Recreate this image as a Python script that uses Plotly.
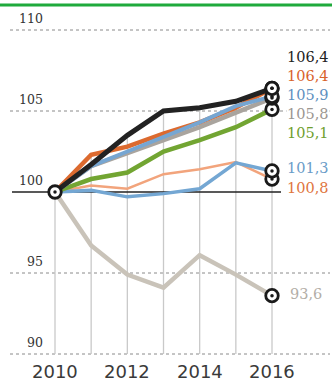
import plotly.graph_objects as go

years = [2010, 2011, 2012, 2013, 2014, 2015, 2016]
black = [100, 101.7, 103.5, 105.0, 105.2, 105.6, 106.4]
orange = [100, 102.3, 102.8, 103.6, 104.3, 105.2, 106.4]
blue_up = [100, 101.6, 102.5, 103.4, 104.3, 105.3, 105.9]
grey_up = [100, 101.6, 102.4, 103.2, 104.0, 104.9, 105.8]
green = [100, 100.8, 101.2, 102.5, 103.2, 104.0, 105.1]
blue_low = [100, 100.1, 99.7, 99.9, 100.2, 101.8, 101.3]
salmon = [100, 100.4, 100.2, 101.1, 101.4, 101.85, 100.8]
grey_low = [100, 96.7, 94.9, 94.1, 96.1, 94.9, 93.6]
y_ticks = [110, 105, 100, 95, 90]
x_labels = [2010, 2012, 2014, 2016]

# (values, line colour, label colour, width, label yshift px, label right edge px)
series = [
    (grey_low, "#c9c3b9", "#b3aea7", 4.5, 2, 323),
    (salmon, "#f2a47c", "#e0753d", 2.5, -9, 330),
    (blue_low, "#74a7d3", "#6a9cc8", 3.5, 3, 330),
    (green, "#72a532", "#6e9e2c", 4.5, -24, 330),
    (grey_up, "#a9a49e", "#9b9691", 4.5, -16, 330),
    (orange, "#dc6a2f", "#d8632b", 4.5, 12, 330),
    (blue_up, "#76a6d2", "#5e90c0", 4, 1, 330),
    (black, "#222222", "#222222", 5, 31, 330),
]

W, H = 332, 381
px_per_year = 36.17
px_per_unit = 16.2
x0 = 2010 - 55 / px_per_year
x1 = 2016 + (W - 272) / px_per_year
y1 = 100 + 192 / px_per_unit
y0 = 100 - (H - 192) / px_per_unit

fig = go.Figure()

# vertical drop lines from top value to 90
for i, yr in enumerate(years):
    top = max(s[0][i] for s in series)
    fig.add_shape(type="line", x0=yr, x1=yr, y0=90, y1=top, xref="x", yref="y",
                  line=dict(color="#c9c9c9", width=1.3), layer="below")

# dotted horizontal gridlines
for v in y_ticks:
    if v == 100:
        continue
    fig.add_shape(type="line", x0=10 / W, x1=330 / W, y0=v, y1=v, xref="paper", yref="y",
                  line=dict(color="#8a8a8a", width=1, dash="dot"), layer="below")
# baseline at 100
fig.add_shape(type="line", x0=x0 + 12 / px_per_year, x1=2016 + 9 / px_per_year, y0=100, y1=100,
              xref="x", yref="y", line=dict(color="#222222", width=1.3), layer="below")

# top green rule
fig.add_shape(type="line", x0=0, x1=1, y0=1 - 5 / H, y1=1 - 5 / H, xref="paper", yref="paper",
              line=dict(color="#1faa3c", width=3))

for vals, col, lcol, w, ysh, xr in series:
    fig.add_trace(go.Scatter(x=years, y=vals, mode="lines",
                             line=dict(color=col, width=w), hoverinfo="skip"))

# end markers
mx = [years[0]] + [years[-1]] * len(series)
my = [100] + [s[0][-1] for s in series]
fig.add_trace(go.Scatter(x=mx, y=my, mode="markers",
                         marker=dict(size=12.5, color="white", line=dict(color="#1a1a1a", width=2.8))))
fig.add_trace(go.Scatter(x=mx, y=my, mode="markers",
                         marker=dict(size=3.5, color="#1a1a1a")))

# end labels
for vals, col, lcol, w, ysh, xr in series:
    fig.add_annotation(x=xr / W, y=vals[-1], xref="paper", yref="y",
                       text=f"{vals[-1]:.1f}".replace(".", ","), showarrow=False,
                       xanchor="right", yanchor="middle", yshift=ysh, bgcolor="white",
                       borderpad=0,
                       font=dict(family="DejaVu Serif", size=14.5, color=lcol))

# y tick labels above gridlines
for v in y_ticks:
    fig.add_annotation(x=45 / W, y=v, xref="paper", yref="y", text=str(v), showarrow=False,
                       xanchor="right", yanchor="bottom", yshift=2,
                       font=dict(family="DejaVu Serif", size=12.5, color="#333333"))

# x labels
for yr in x_labels:
    fig.add_annotation(x=yr, y=90, xref="x", yref="y", text=str(yr), showarrow=False,
                       xanchor="center", yanchor="top", yshift=-5,
                       font=dict(family="DejaVu Sans", size=18, color="#3a3a3a"))

fig.update_layout(
    width=W, height=H, margin=dict(l=0, r=0, t=0, b=0),
    paper_bgcolor="white", plot_bgcolor="white", showlegend=False,
    xaxis=dict(range=[x0, x1], visible=False, fixedrange=True),
    yaxis=dict(range=[y0, y1], visible=False, fixedrange=True),
)

fig.write_html("out.html")
